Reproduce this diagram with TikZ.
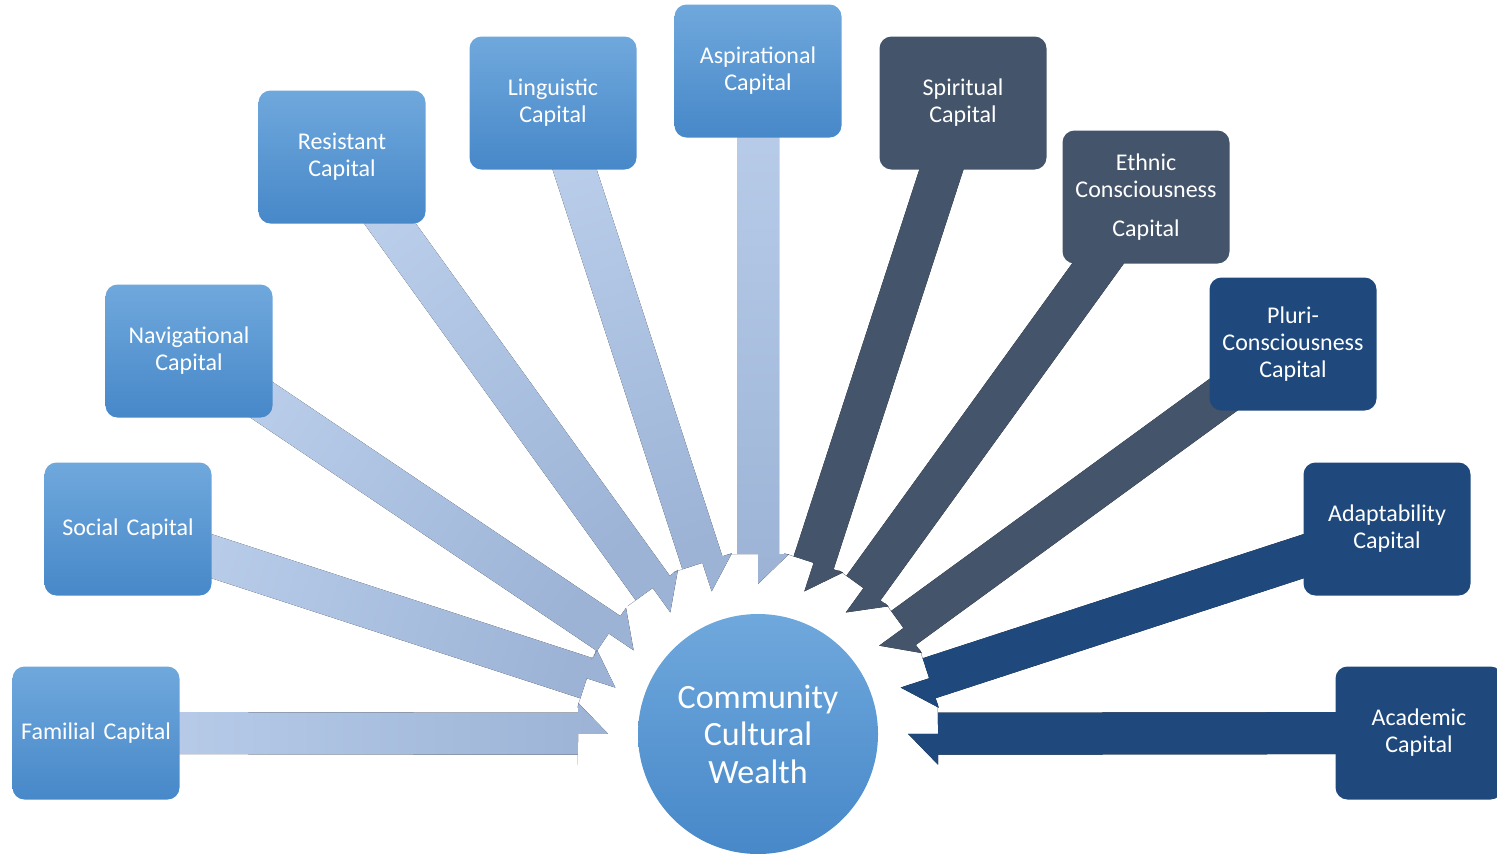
\documentclass[tikz,border=0pt]{standalone}
\usepackage{fontspec}
\setmainfont{Carlito}
\usepackage{xcolor}
\usetikzlibrary{calc,backgrounds}

\definecolor{boxtop}{HTML}{6FA8DC}
\definecolor{boxbot}{HTML}{4788C9}
\definecolor{arrtail}{HTML}{BBCFEB}
\definecolor{arrtip}{HTML}{9CB3D6}
\definecolor{slate}{HTML}{44546A}
\definecolor{navy}{HTML}{1F497D}

\begin{document}
\begin{tikzpicture}[x=0.5pt,y=-0.5pt,
  capbox/.style={rounded corners=6pt, minimum width=83.5pt, minimum height=66.5pt,
    inner sep=0pt, text width=80pt, align=center, text=white,
    font=\fontsize{12pt}{13.5pt}\selectfont},
  lightbox/.style={capbox, top color=boxtop, bottom color=boxbot},
  slatebox/.style={capbox, fill=slate},
  navybox/.style={capbox, fill=navy},
  lightarr/.style={top color=arrtail, bottom color=arrtip},
  slatearr/.style={top color=slate, bottom color=slate},
  navyarr/.style={top color=navy, bottom color=navy}]
 \useasboundingbox (0,0) rectangle (1497,853);

 % centre
 \node[circle, minimum size=120pt, inner sep=0pt, top color=boxtop, bottom color=boxbot,
   text=white, align=center, font=\fontsize{17pt}{18.75pt}\selectfont]
   (ccw) at (758,734) {Community\\Cultural\\Wealth};

 % left half
 \node[lightbox] (fam) at (96,733) {Familial Capital};
 \node[lightbox] (soc) at (128,529) {Social Capital};
 \node[lightbox] (nav) at (189,351) {Navigational\\Capital};
 \node[lightbox] (res) at (342,157) {Resistant\\Capital};
 \node[lightbox] (lin) at (553,103) {Linguistic\\Capital};
 \node[lightbox] (asp) at (758,71) {Aspirational\\Capital};

 % right half
 \node[slatebox] (spi) at (963,103) {Spiritual\\Capital};
 \node[slatebox] (eth) at (1146,197) {Ethnic\\Consciousness\\[6pt]Capital};
 \node[navybox] (plu) at (1293,344) {Pluri-\\Consciousness\\Capital};
 \node[navybox] (ada) at (1387,529) {Adaptability\\Capital};
 \node[navybox] (aca) at (1419,733) {Academic\\Capital};

 % block arrows into the circle
 \begin{scope}[on background layer]
 \foreach \b/\ang/\st in {fam/90/lightarr, soc/72/lightarr, nav/56/lightarr,
     res/36/lightarr, lin/18/lightarr, asp/0/lightarr,
     spi/0/slatearr, eth/0/slatearr, plu/0/slatearr,
     ada/0/navyarr, aca/0/navyarr}
  \fill[\st, shading angle=\ang]
   ($(ccw)!75pt!(\b)$) coordinate (t)
   -- ($(t)!15pt!(\b)$) coordinate (h)
   -- ($(h)!15.5pt!90:(\b)$)
   -- ($(h)!10.5pt!90:(\b)$)
   -- ($(\b)!10.5pt!-90:(ccw)$)
   -- ($(\b)!10.5pt!90:(ccw)$)
   -- ($(h)!10.5pt!-90:(\b)$)
   -- ($(h)!15.5pt!-90:(\b)$)
   -- cycle;
 \end{scope}

\end{tikzpicture}
\end{document}
